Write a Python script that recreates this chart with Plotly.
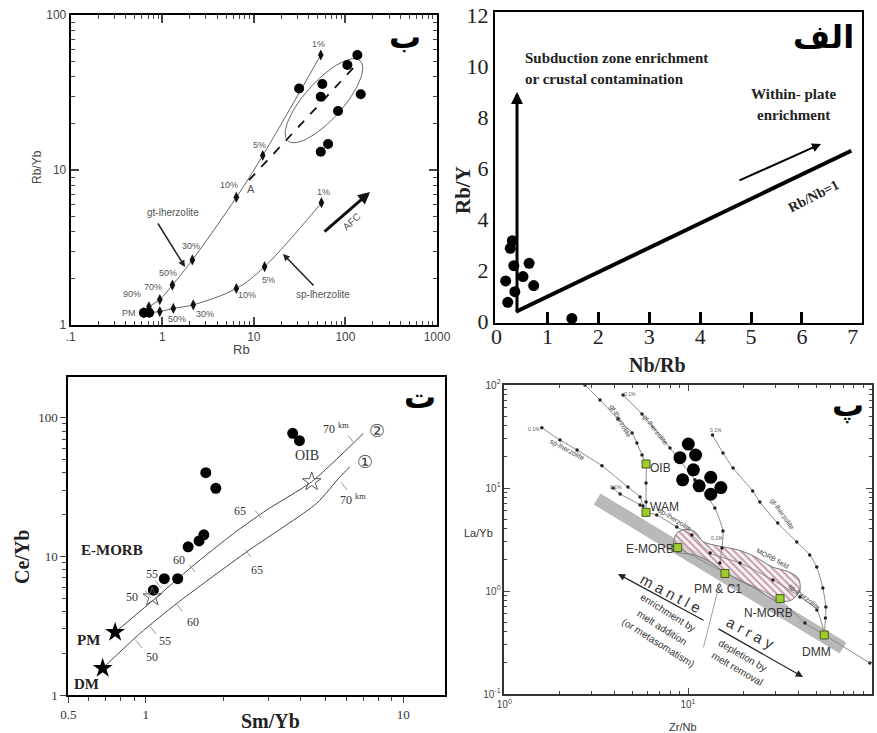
import numpy as np
import plotly.graph_objects as go

W, H = 877, 733
SANS = "Liberation Sans"
SERIF = "Liberation Serif"
AR = "DejaVu Sans"

# ---------------- Panel ب : Rb vs Rb/Yb ----------------
b_sample_rb = [31.2, 56, 53.8, 105, 135, 147, 83, 53.8, 64.6]
b_sample_rbyb = [33.6, 35.9, 29.7, 47.6, 55.2, 30.8, 24.0, 13.1, 14.7]
b_pm_rb = [0.63, 0.72]
b_pm_rbyb = [1.2, 1.2]
gt_rb = [0.63, 0.715, 0.94, 1.29, 2.13, 6.44, 12.5, 53.8]
gt_rbyb = [1.2, 1.31, 1.46, 1.81, 2.63, 6.66, 12.4, 55.2]
sp_rb = [0.63, 0.94, 1.32, 2.18, 6.44, 13.1, 54.7]
sp_rbyb = [1.2, 1.22, 1.28, 1.35, 1.72, 2.38, 6.15]
afc_rb = [8.85, 141]
afc_rbyb = [8.6, 50]
ell_center = (58.3, 28.0)

# ---------------- Panel الف : Nb/Rb vs Rb/Y ----------------
a_nbrb = [0.31, 0.27, 0.34, 0.64, 0.18, 0.52, 0.73, 0.36, 0.22, 1.48]
a_rby = [3.15, 2.85, 2.17, 2.26, 1.57, 1.74, 1.39, 1.15, 0.73, 0.10]
a_ref_nbrb = [0.38, 6.97]
a_ref_rby = [0.36, 6.68]

# ---------------- Panel ت : Sm/Yb vs Ce/Yb ----------------
t_smyb = [3.72, 3.95, 1.71, 1.87, 1.68, 1.61, 1.46, 1.18, 1.33, 1.07]
t_ceyb = [77.1, 68.2, 40.1, 30.9, 14.3, 12.9, 11.7, 6.9, 6.9, 5.7]
c2_smyb = [0.76, 1.07, 1.51, 2.19, 2.95, 4.41, 7.0]
c2_ceyb = [2.83, 4.84, 8.42, 14.6, 21.6, 34.5, 77.1]
c1_smyb = [0.68, 0.95, 1.32, 2.47, 4.61, 5.68, 6.21]
c1_ceyb = [1.56, 2.78, 4.58, 10.8, 24.1, 37.5, 44.3]
t_filled_star_smyb = [0.76, 0.68]
t_filled_star_ceyb = [2.83, 1.56]
t_open_star_smyb = [4.41, 1.06]
t_open_star_ceyb = [34.5, 5.1]

# ---------------- Panel پ : Zr/Nb vs La/Yb ----------------
p_sample_zrnb = [10.04, 9.04, 11.0, 10.7, 9.35, 11.5, 13.3, 15.1, 13.3]
p_sample_layb = [26.7, 19.7, 20.9, 15.0, 12.0, 10.5, 12.7, 10.1, 8.7]
p_ref_names = ["OIB", "WAM", "E-MORB", "PM & C1", "N-MORB", "DMM"]
p_ref_zrnb = [5.91, 5.91, 8.79, 15.9, 31.7, 55.2]
p_ref_layb = [17.1, 5.8, 2.64, 1.48, 0.844, 0.374]
band_zrnb = [3.20, 69.8]
band_layb = [7.82, 0.28]
curveA_zrnb = [2.75, 3.32, 4.16, 4.96, 5.27, 5.62, 5.91, 5.91, 5.91, 5.91]
curveA_layb = [100, 71.4, 46.8, 34.2, 27.3, 20.9, 17.1, 11.2, 7.31, 5.8]
curveB_zrnb = [4.43, 5.62, 7.98, 10.9, 14.0, 15.5, 15.3, 14.9]
curveB_layb = [80, 52.2, 24.4, 12.0, 6.4, 3.83, 2.61, 1.87]
curveC_zrnb = [1.60, 2.01, 2.49, 3.40, 4.71, 5.48, 5.69, 5.91]
curveC_layb = [38.5, 29.2, 23.4, 16.4, 10.2, 8.19, 6.69, 5.8]
curveD_zrnb = [3.91, 4.27, 5.48, 5.91, 6.76, 8.69, 10.5, 13.2, 19.2, 29.0, 40.7, 50.3, 55.2]
curveD_layb = [10.0, 8.74, 6.84, 5.85, 5.47, 4.18, 3.50, 2.34, 1.87, 1.28, 0.875, 0.655, 0.391]
curveE_zrnb = [8.79, 15.9, 31.6, 43.3, 55.2, 97.7]
curveE_layb = [2.64, 1.50, 0.818, 0.489, 0.374, 0.20]
curveF_zrnb = [13.6, 15.5, 17.6, 22.5, 24.6, 30.8, 39.1, 46.0, 50.2, 54.2, 56.3, 56.0, 55.2]
curveF_layb = [32.7, 21.9, 15.6, 9.35, 7.31, 4.57, 2.99, 2.24, 1.71, 1.07, 0.70, 0.547, 0.374]
morb_zrnb = [8.32, 8.67, 9.63, 10.9, 12.1, 14.6, 18.8, 23.2, 28.6, 35.2, 39.9, 40.7, 36.7,
             31.0, 27.4, 23.2, 18.8, 15.2, 12.9, 10.9, 9.63, 8.49, 8.32]
morb_layb = [2.90, 3.63, 3.97, 3.77, 3.01, 2.74, 2.50, 2.15, 1.72, 1.54, 1.33, 1.02, 0.819,
             0.787, 0.881, 1.06, 1.28, 1.60, 1.97, 2.24, 2.32, 2.41, 2.90]

fig = go.Figure()

# ---- traces ب
fig.add_trace(go.Scatter(x=gt_rb, y=gt_rbyb, mode="lines+markers", line=dict(color="#666", width=1, shape="spline"),
                         marker=dict(symbol="diamond-tall", size=8, color="#111"), xaxis="x", yaxis="y"))
fig.add_trace(go.Scatter(x=sp_rb, y=sp_rbyb, mode="lines+markers", line=dict(color="#666", width=1, shape="spline"),
                         marker=dict(symbol="diamond-tall", size=8, color="#111"), xaxis="x", yaxis="y"))
fig.add_trace(go.Scatter(x=afc_rb, y=afc_rbyb, mode="lines", line=dict(color="#111", width=1.8, dash="dash"),
                         xaxis="x", yaxis="y"))
tt = np.linspace(0, 2 * np.pi, 150)
ea, eb, eth = 54.0, 19.0, np.radians(48)
dxp = ea * np.cos(tt) * np.cos(eth) - eb * np.sin(tt) * np.sin(eth)
dyp = ea * np.cos(tt) * np.sin(eth) + eb * np.sin(tt) * np.cos(eth)
fig.add_trace(go.Scatter(x=10 ** (np.log10(ell_center[0]) + dxp / 91.5),
                         y=10 ** (np.log10(ell_center[1]) + dyp / 155.0),
                         mode="lines", line=dict(color="#666", width=1), xaxis="x", yaxis="y"))
fig.add_trace(go.Scatter(x=b_sample_rb + b_pm_rb, y=b_sample_rbyb + b_pm_rbyb, mode="markers",
                         marker=dict(size=10, color="black"), xaxis="x", yaxis="y"))

# ---- traces الف
fig.add_trace(go.Scatter(x=a_ref_nbrb, y=a_ref_rby, mode="lines", line=dict(color="black", width=4),
                         xaxis="x2", yaxis="y2"))
fig.add_trace(go.Scatter(x=a_nbrb, y=a_rby, mode="markers", marker=dict(size=11, color="black"),
                         xaxis="x2", yaxis="y2"))

# ---- traces ت
fig.add_trace(go.Scatter(x=c1_smyb, y=c1_ceyb, mode="lines", line=dict(color="#444", width=1, shape="spline", smoothing=0.6),
                         xaxis="x3", yaxis="y3"))
fig.add_trace(go.Scatter(x=c2_smyb, y=c2_ceyb, mode="lines", line=dict(color="#444", width=1, shape="spline", smoothing=0.6),
                         xaxis="x3", yaxis="y3"))
fig.add_trace(go.Scatter(x=t_smyb, y=t_ceyb, mode="markers", marker=dict(size=11, color="black"),
                         xaxis="x3", yaxis="y3"))
fig.add_trace(go.Scatter(x=t_filled_star_smyb, y=t_filled_star_ceyb, mode="markers",
                         marker=dict(symbol="star", size=15, color="black"), xaxis="x3", yaxis="y3"))
fig.add_trace(go.Scatter(x=t_open_star_smyb, y=t_open_star_ceyb, mode="markers",
                         marker=dict(symbol="star-open", size=14, color="#555", line=dict(width=1)),
                         xaxis="x3", yaxis="y3"))

# ---- traces پ
fig.add_trace(go.Scatter(x=band_zrnb, y=band_layb, mode="lines", line=dict(color="#b9b9b9", width=13),
                         xaxis="x4", yaxis="y4"))
fig.add_trace(go.Scatter(x=morb_zrnb, y=morb_layb, mode="lines", fill="toself",
                         fillcolor="rgba(240,215,225,0.5)",
                         fillpattern=dict(shape="\\", fgcolor="#c98fb0", bgcolor="rgba(235,240,225,0.6)", size=5, solidity=0.35),
                         line=dict(color="#777", width=1, shape="spline", smoothing=0.8), xaxis="x4", yaxis="y4"))
for cx, cy in [(curveA_zrnb, curveA_layb), (curveB_zrnb, curveB_layb), (curveC_zrnb, curveC_layb),
               (curveD_zrnb, curveD_layb), (curveE_zrnb, curveE_layb), (curveF_zrnb, curveF_layb)]:
    fig.add_trace(go.Scatter(x=cx, y=cy, mode="lines+markers",
                             line=dict(color="#8a8a8a", width=1, shape="spline", smoothing=0.6),
                             marker=dict(size=3.5, color="#222"), xaxis="x4", yaxis="y4"))
fig.add_trace(go.Scatter(x=p_ref_zrnb, y=p_ref_layb, mode="markers",
                         marker=dict(symbol="square", size=8, color="#9ccc2e", line=dict(color="#4a5a20", width=1)),
                         xaxis="x4", yaxis="y4"))
fig.add_trace(go.Scatter(x=p_sample_zrnb, y=p_sample_layb, mode="markers", marker=dict(size=13, color="black"),
                         xaxis="x4", yaxis="y4"))

# ---------------- annotations ----------------
ann = []


def P(sx, sy):
    return sx / W, 1 - sy / H


def text(sx, sy, s, size=12, color="#333", family=SANS, angle=0, bold=False, xanchor="center"):
    x, y = P(sx, sy)
    ann.append(dict(x=x, y=y, xref="paper", yref="paper", text=f"<b>{s}</b>" if bold else s,
                    showarrow=False, font=dict(size=size, color=color, family=family),
                    textangle=angle, xanchor=xanchor, yanchor="middle"))


def arrow(hx, hy, tx, ty, width=1.5, color="black", head=2, size=1.0):
    x, y = P(hx, hy)
    ann.append(dict(x=x, y=y, xref="paper", yref="paper", ax=tx - hx, ay=ty - hy,
                    axref="pixel", ayref="pixel", showarrow=True, arrowhead=head,
                    arrowwidth=width, arrowcolor=color, arrowsize=size, text=""))


# ب
text(405, 37, "ب", 32, "black", AR, bold=True)
g = "#555"
text(318, 44, "1%", 9, g)
text(259, 145, "5%", 9, g)
text(229, 185, "10%", 9, g)
text(251, 189, "A", 11, g)
text(173, 212, "gt-lherzolite", 10, g)
text(191, 246, "30%", 9, g)
text(168, 273, "50%", 9, g)
text(153, 287, "70%", 9, g)
text(132, 294, "90%", 9, g)
text(129, 313, "PM", 9, g)
text(177, 319, "50%", 9, g)
text(205, 314, "30%", 9, g)
text(247, 295, "10%", 9, g)
text(268, 280, "5%", 9, g)
text(323, 192, "1%", 9, g)
text(323, 295, "sp-lherzolite", 10, g)
text(352, 222, "AFC", 10, g, angle=-42)
text(37, 167, "Rb/Yb", 12, "#444", angle=-90)
text(242, 349, "Rb", 13, "#444")
arrow(185, 267, 157, 222, 1.5, "#222", 2, 0.9)
arrow(283, 254, 315, 287, 1.5, "#222", 2, 0.9)
arrow(370, 192, 323, 233, 3, "#111", 2, 0.8)

# الف
text(823, 37, "الف", 32, "black", AR, bold=True)
text(523, 58, "Subduction zone enrichment", 15, "#222", SERIF, bold=True, xanchor="left")
text(523, 79, "or crustal contamination", 15, "#222", SERIF, bold=True, xanchor="left")
text(793, 94, "Within- plate", 15, "#222", SERIF, bold=True)
text(793, 115, "enrichment", 15, "#222", SERIF, bold=True)
text(813, 196, "Rb/Nb=1", 14, "#222", SERIF, angle=-27, bold=True)
text(463, 190, "Rb/Y", 21, "#222", SERIF, angle=-90, bold=True)
text(657, 365, "Nb/Rb", 20, "#222", SERIF, bold=True)
arrow(517, 92, 517, 313, 3, "black", 2, 0.8)
arrow(821, 144, 738, 181, 2, "black", 2, 0.9)

# ت
text(420, 397, "ت", 32, "black", AR, bold=True)
text(307, 456, "OIB", 14, "#333", SERIF)
text(112, 550, "E-MORB", 15, "#222", SERIF, bold=True)
text(88, 640, "PM", 15, "#222", SERIF, bold=True)
text(86, 684, "DM", 15, "#222", SERIF, bold=True)
text(377, 430, "②", 18, "#444", AR)
text(365, 462, "①", 18, "#444", AR)
for sx, sy, s in [(132, 597, "50"), (152, 574, "55"), (179, 560, "60"), (240, 511, "65"),
                  (336, 428, "70 <sup>km</sup>"), (152, 657, "50"), (165, 641, "55"), (193, 622, "60"),
                  (257, 570, "65"), (353, 499, "70 <sup>km</sup>")]:
    text(sx, sy, s, 12, "#333", SERIF)
for sx, sy in [(147, 593), (157, 583), (191, 567), (257, 513), (350, 438),
               (138, 643), (152, 629), (178, 606), (247, 552), (343, 485)]:
    arrow(sx + 4, sy + 5, sx - 3, sy - 4, 1, "#999", 0)
text(22, 557, "Ce/Yb", 20, "#222", SERIF, angle=-90, bold=True)
text(270, 721, "Sm/Yb", 20, "#222", SERIF, bold=True)

# پ
text(848, 405, "پ", 32, "black", AR, bold=True)
text(660, 468, "OIB", 12, "#333")
text(664, 507, "WAM", 12, "#333")
text(676, 549, "E-MORB", 12, "#333", xanchor="right")
text(718, 589, "PM & C1", 12, "#333")
text(768, 613, "N-MORB", 12, "#333")
text(816, 652, "DMM", 12, "#333")
text(773, 558, "MORB field", 7, "#444", angle=28)
text(620, 421, "gt-lherzolite", 7, "#444", angle=60)
text(655, 430, "gt-lherzolite", 7, "#444", angle=52)
text(782, 514, "gt-lherzolite", 7, "#444", angle=55)
text(567, 450, "sp-lherzolite", 7, "#444", angle=28)
text(675, 520, "sp-lherzolite", 7, "#444", angle=32)
text(804, 597, "sp-lherzolite", 7, "#444", angle=38)
for sx, sy in [(534, 429), (630, 394), (616, 487), (716, 430), (717, 538)]:
    text(sx, sy, "0.1%", 5, "#555")
text(671, 593, "m a n t l e", 15, "#333", angle=28)
text(750, 632, "a r r a y", 15, "#333", angle=28)
text(668, 612, "enrichment by", 10, "#333", angle=32)
text(662, 627, "melt addition", 10, "#333", angle=32)
text(658, 642, "(or metasomatism)", 10, "#333", angle=32)
text(743, 655, "depletion by", 10, "#333", angle=30)
text(737, 668, "melt removal", 10, "#333", angle=30)
text(478, 533, "La/Yb", 11, "#333")
text(683, 727, "Zr/Nb", 11, "#333")
arrow(618, 574, 705, 621, 1.2, "#222", 2, 1.2)
arrow(803, 677, 717, 628, 1.2, "#222", 2, 1.2)
arrow(720, 582, 703, 649, 0.8, "#888", 0)


# ---------------- axes ----------------
def dom_x(a, b):
    return [a / W, b / W]


def dom_y(top, bottom):
    return [1 - bottom / H, 1 - top / H]


def minor_log(lo, hi):
    return [k * 10.0 ** d for d in range(lo, hi) for k in range(2, 10)]


common = dict(showgrid=False, zeroline=False, showline=True, linecolor="black", automargin=False)

layout = dict(
    template="none",
    width=W, height=H, margin=dict(l=0, r=0, t=0, b=0, pad=0), paper_bgcolor="white", plot_bgcolor="white",
    showlegend=False, annotations=ann,
    # ب
    xaxis=dict(common, type="log", range=[-1, 3], domain=dom_x(70.7, 437), anchor="y",
               tickmode="array", tickvals=[0.1, 1, 10, 100, 1000], ticktext=[".1", "1", "10", "100", "1000"],
               ticks="inside", ticklen=8, tickwidth=1.5, mirror="allticks", linewidth=2,
               minor=dict(tickmode="array", tickvals=minor_log(-1, 3), ticks="inside", ticklen=4, tickwidth=1),
               tickfont=dict(size=12, color="#444", family=SANS)),
    yaxis=dict(common, type="log", range=[0, 2], domain=dom_y(15, 325), anchor="x",
               tickmode="array", tickvals=[1, 10, 100], ticktext=["1", "10", "100"],
               ticks="inside", ticklen=8, tickwidth=1.5, mirror="allticks", linewidth=2,
               minor=dict(tickmode="array", tickvals=minor_log(0, 2), ticks="inside", ticklen=4, tickwidth=1),
               tickfont=dict(size=12, color="#444", family=SANS)),
    # الف
    xaxis2=dict(common, range=[-0.03, 7.18], domain=dom_x(495, 862), anchor="y2",
                tickmode="array", tickvals=list(range(8)), ticks="", mirror=True, linewidth=2,
                ticklabelstandoff=-7,
                minor=dict(tickmode="array", tickvals=[1, 2, 3, 4, 5, 6], ticks="inside", ticklen=11, tickwidth=3,
                           tickcolor="black"),
                tickfont=dict(size=22, color="#222", family=SERIF)),
    yaxis2=dict(common, range=[-0.08, 12.12], domain=dom_y(12, 323), anchor="x2",
                tickmode="array", tickvals=list(range(0, 13, 2)), ticks="", mirror=True, linewidth=2,
                tickfont=dict(size=22, color="#222", family=SERIF)),
    # ت
    xaxis3=dict(common, type="log", range=[np.log10(0.5), 1.162], domain=dom_x(68.3, 445), anchor="y3",
                tickmode="array", tickvals=[0.5, 1, 10], ticktext=["0.5", "1", "10"],
                ticks="outside", ticklen=6, tickwidth=1, mirror=True, linewidth=2,
                minor=dict(tickmode="array", tickvals=[0.6, 0.7, 0.8, 0.9] + minor_log(0, 1), ticks="outside",
                           ticklen=4, tickwidth=1),
                tickfont=dict(size=13, color="#333", family=SERIF)),
    yaxis3=dict(common, type="log", range=[0, 2.293], domain=dom_y(377, 695), anchor="x3",
                tickmode="array", tickvals=[1, 10, 100], ticktext=["1", "10", "100"],
                ticks="outside", ticklen=6, tickwidth=1, mirror=True, linewidth=2,
                minor=dict(tickmode="array", tickvals=minor_log(0, 2) + [200], ticks="outside", ticklen=4, tickwidth=1),
                tickfont=dict(size=13, color="#333", family=SERIF)),
    # پ
    xaxis4=dict(common, type="log", range=[0, 2], domain=dom_x(504.3, 871.7), anchor="y4",
                tickmode="array", tickvals=[1, 10, 100], ticktext=["10<sup>0</sup>", "10<sup>1</sup>", "10<sup>2</sup>"],
                ticks="inside", ticklen=6, tickwidth=1, mirror="allticks", linewidth=1.5, linecolor="#333",
                minor=dict(tickmode="array", tickvals=minor_log(0, 2), ticks="inside", ticklen=3, tickwidth=1),
                tickfont=dict(size=10, color="#444", family=SANS)),
    yaxis4=dict(common, type="log", range=[-1, 2], domain=dom_y(385, 694), anchor="x4",
                tickmode="array", tickvals=[0.1, 1, 10, 100],
                ticktext=["10<sup>-1</sup>", "10<sup>0</sup>", "10<sup>1</sup>", "10<sup>2</sup>"],
                ticks="inside", ticklen=6, tickwidth=1, mirror="allticks", linewidth=1.5, linecolor="#333",
                minor=dict(tickmode="array", tickvals=minor_log(-1, 2), ticks="inside", ticklen=3, tickwidth=1),
                tickfont=dict(size=10, color="#444", family=SANS)),
)
fig.update_layout(**layout)
fig.write_html("out.html", config={"displayModeBar": False},
               post_script="document.body.style.margin='0';document.body.style.padding='0';document.documentElement.style.overflow='hidden';")
